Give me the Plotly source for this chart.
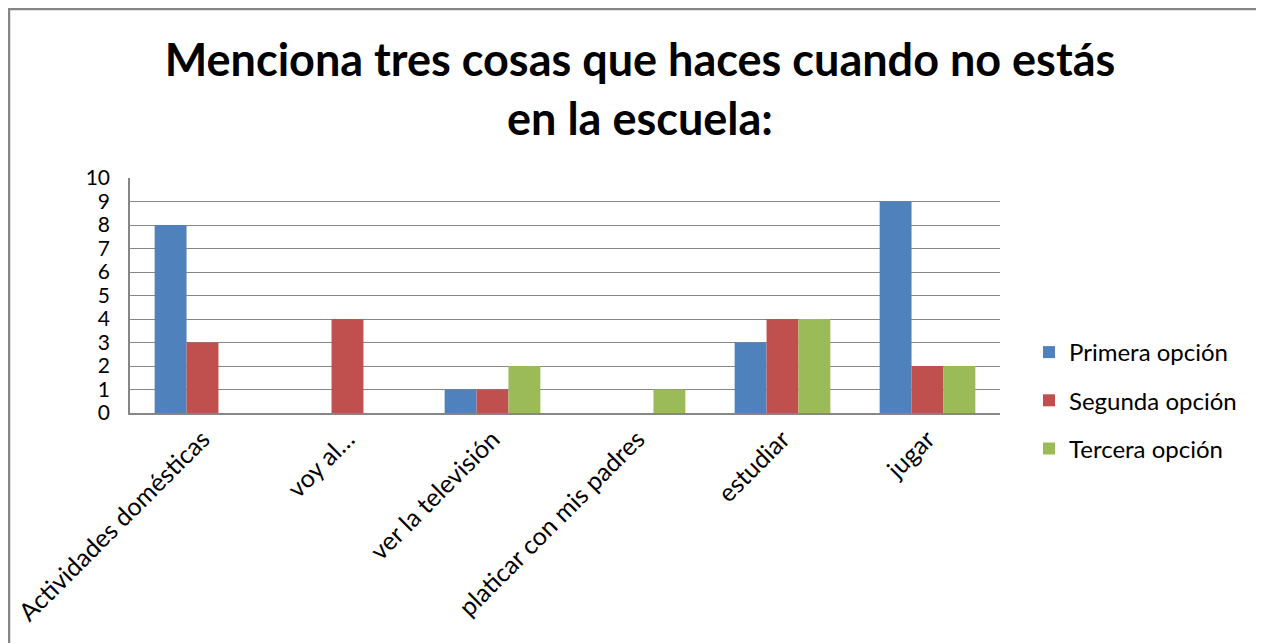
import plotly.graph_objects as go

categories = ["Actividades domésticas", "voy al…", "ver la televisión",
              "platicar con mis padres", "estudiar", "jugar"]
primera = [8, None, 1, None, 3, 9]
segunda = [3, 4, 1, None, 4, 2]
tercera = [None, None, 2, 1, 4, 2]
series_names = ["Primera opción", "Segunda opción", "Tercera opción"]
series_colors = ["#4F81BD", "#C0504D", "#9BBB59"]
y_ticks = list(range(0, 11))

FONT = "Lato, Calibri, 'Open Sans', sans-serif"

fig = go.Figure()
for i, (name, vals, col) in enumerate(zip(series_names, [primera, segunda, tercera], series_colors)):
    fig.add_trace(go.Bar(x=categories, y=vals, name=name, marker_color=col,
                         marker_line_width=0, legendgroup=str(i)))

W, H = 1264, 643
OFF = 8  # page body margin
L, T = 130 - OFF, 178 - OFF
R = W - (1000 - OFF)
B = H - (413 - OFF)
pw, ph = W - L - R, H - T - B

def px_x(xpage):
    return (xpage - OFF - L) / pw

def px_y(ypage):
    return (H - B - (ypage - OFF)) / ph

fig.update_layout(
    width=W, height=H,
    margin=dict(l=L, r=R, t=T, b=B),
    paper_bgcolor="white", plot_bgcolor="white",
    barmode="group", bargap=0.34, bargroupgap=0,
    font=dict(family=FONT, color="black"),
    title=dict(text="Menciona tres cosas que haces cuando no estás<br>en la escuela:",
               font=dict(family=FONT, size=45, color="black", weight="bold"),
               x=0.5, xref="container", xanchor="center",
               y=1 - (76 - OFF) / H, yref="container", yanchor="middle"),
    legend=dict(x=px_x(1029), y=px_y(330), xanchor="left", yanchor="top",
                font=dict(family=FONT, size=24, color="black"),
                tracegroupgap=14, traceorder="grouped",
                bgcolor="rgba(0,0,0,0)", itemwidth=30),
    xaxis=dict(tickangle=-45, tickfont=dict(family=FONT, size=25, color="black"),
               showline=True, linecolor="#868686", linewidth=1.5,
               showgrid=False, ticks="", automargin=False),
    yaxis=dict(range=[0, 10], tickvals=y_ticks, tickfont=dict(family=FONT, size=21, color="black"),
               showline=True, linecolor="#868686", linewidth=1.5,
               showgrid=True, gridcolor="#868686", gridwidth=1,
               ticks="", ticklabelstandoff=14, automargin=False, zeroline=False),
    shapes=[dict(type="rect", xref="paper", yref="paper",
                 x0=px_x(9), x1=px_x(1260), y0=px_y(9), y1=px_y(680),
                 line=dict(color="#868686", width=2.5), fillcolor="rgba(0,0,0,0)", layer="below")],
    showlegend=True,
)

fig.write_html("out.html")
